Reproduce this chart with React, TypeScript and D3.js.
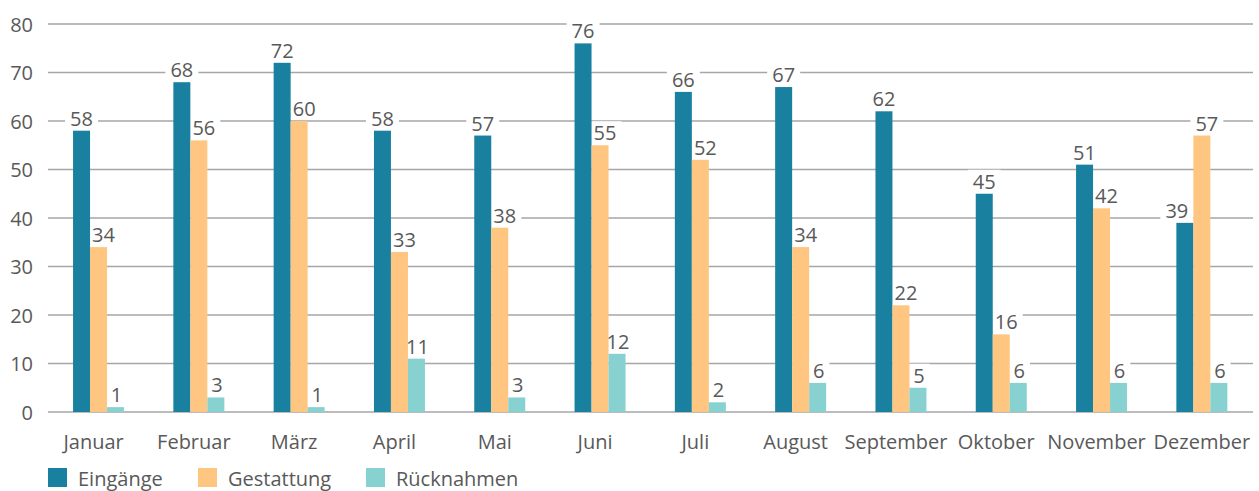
import React from "react"
import * as d3 from "d3"

const months = ["Januar", "Februar", "März", "April", "Mai", "Juni", "Juli", "August", "September", "Oktober", "November", "Dezember"]
const eingaenge = [58, 68, 72, 58, 57, 76, 66, 67, 62, 45, 51, 39]
const gestattung = [34, 56, 60, 33, 38, 55, 52, 34, 22, 16, 42, 57]
const ruecknahmen = [1, 3, 1, 11, 3, 12, 2, 6, 5, 6, 6, 6]
const seriesNames = ["Eingänge", "Gestattung", "Rücknahmen"]
const seriesColors = ["#19819f", "#fec680", "#88d1d1"]
const yTicks = [0, 10, 20, 30, 40, 50, 60, 70, 80]

const W = 1259
const H = 491
const font = "'Open Sans', 'Noto Sans', sans-serif"
const txt = "#595959"

// label nudges (series offset, plus one manually moved label)
const seriesDx = [0, 5, 1]
const extraDx: Record<string, number> = { "Dezember-0": -8 }

export default function App() {
  const x = d3.scaleBand().domain(months).range([48.4, 1252]).paddingInner(0).paddingOuter(0)
  const y = d3.scaleLinear().domain([0, 80]).range([412, 24])
  const inner = d3.scaleBand().domain(seriesNames).range([0, 51])
  const groupOff = (x.bandwidth() - 51) / 2
  const all = [eingaenge, gestattung, ruecknahmen]

  const boxes: any[] = []
  const bars: any[] = []
  const labels: any[] = []
  months.forEach((m, i) => {
    all.forEach((arr, s) => {
      const v = arr[i]
      const bx = (x(m) as number) + groupOff + (inner(seriesNames[s]) as number)
      const bw = inner.bandwidth()
      bars.push(<rect key={`b${i}-${s}`} x={bx} y={y(v)} width={bw} height={y(0) - y(v)} fill={seriesColors[s]} />)
      const tw = String(v).length * 11.5 + 10
      const cx = bx + bw / 2 + seriesDx[s] + (extraDx[`${m}-${s}`] || 0)
      const base = y(v) - 5
      boxes.push(<rect key={`r${i}-${s}`} x={cx - tw / 2} y={base - 19} width={tw} height={21} fill="#fff" />)
      labels.push(
        <text key={`l${i}-${s}`} x={cx} y={base} textAnchor="middle" fontSize={20} fill={txt} fontFamily={font}>{v}</text>
      )
    })
  })

  return (
    <svg width={W} height={H} style={{ display: "block", position: "absolute", left: 0, top: 0 }}>
      <rect width={W} height={H} fill="#fff" />
      {yTicks.map(t => (
        <g key={t}>
          <line x1={48} x2={1253} y1={y(t)} y2={y(t)} stroke="#a6a6a6" strokeWidth={t === 0 ? 1.5 : 1.3} />
          <text x={33} y={y(t) + 7.5} textAnchor="end" fontSize={20} fill={txt} fontFamily={font}>{t}</text>
        </g>
      ))}
      {boxes}
      {bars}
      {labels}
      {months.map((m, i) => (
        <text key={m} x={(x(m) as number) + x.bandwidth() / 2 + (i === months.length - 1 ? 0 : -5)} y={449} textAnchor="middle" fontSize={20} fill={txt} fontFamily={font}>{m}</text>
      ))}
      {seriesNames.map((n, i) => {
        const lx = [48, 198, 366][i]
        return (
          <g key={n}>
            <rect x={lx} y={468} width={19} height={19} fill={seriesColors[i]} />
            <text x={lx + 30} y={486} fontSize={20} fill={txt} fontFamily={font}>{n}</text>
          </g>
        )
      })}
    </svg>
  )
}
